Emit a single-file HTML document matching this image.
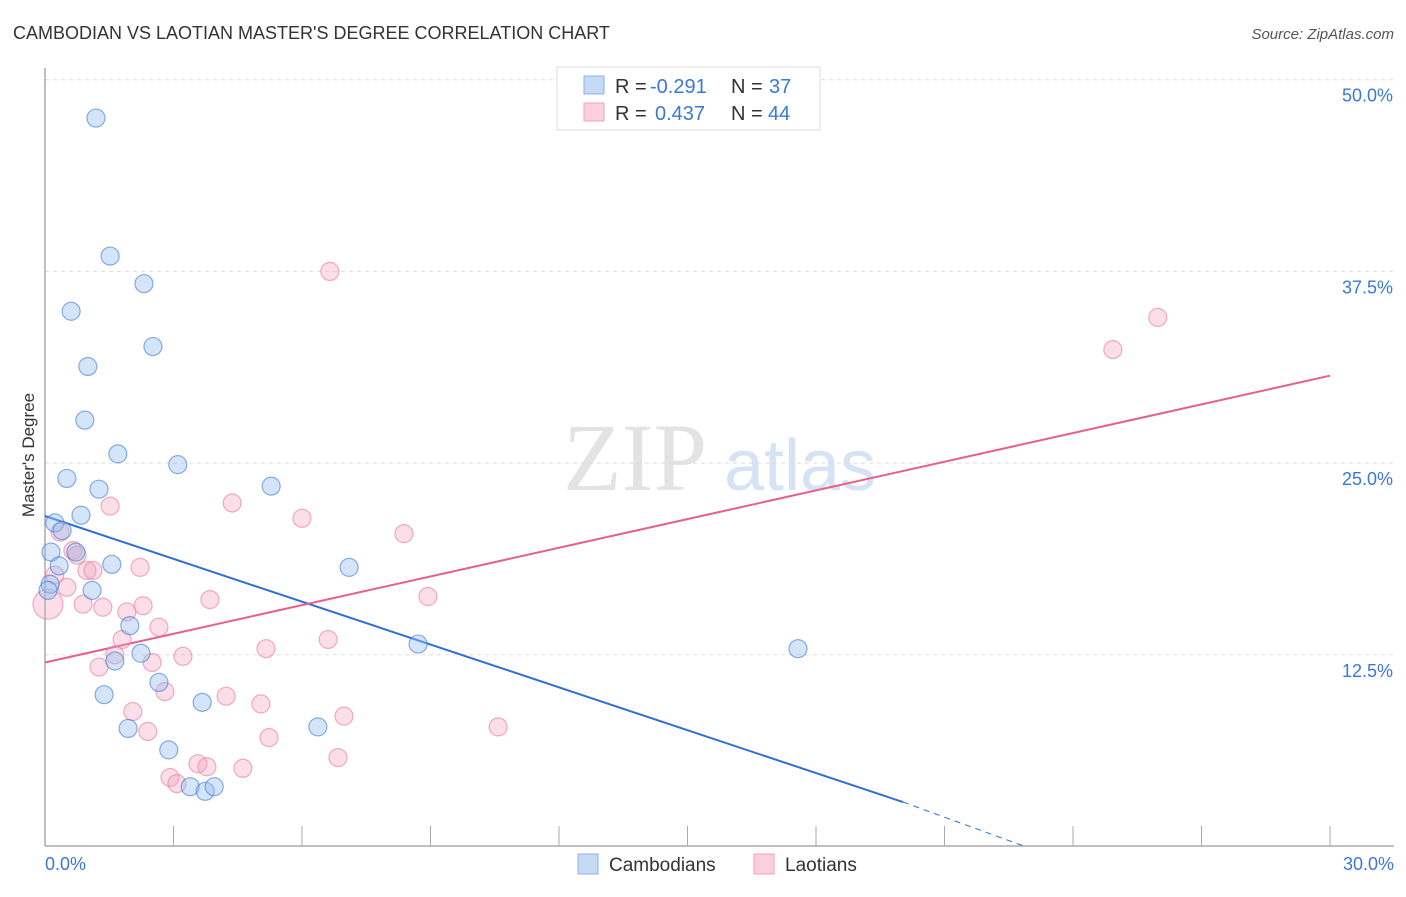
<!DOCTYPE html>
<html><head><meta charset="utf-8"><style>
body{margin:0;background:#fff;font-family:"Liberation Sans",sans-serif;}
</style></head><body>
<svg id="chart" width="1406" height="892" xmlns="http://www.w3.org/2000/svg">
<text x="13" y="39" font-size="18" fill="#333">CAMBODIAN VS LAOTIAN MASTER'S DEGREE CORRELATION CHART</text>
<text x="1394" y="39" font-size="15" fill="#555" font-style="italic" text-anchor="end">Source: ZipAtlas.com</text>
<g>
<text x="635" y="490" font-size="96" font-family="Liberation Serif,serif" fill="#e3e3e3" text-anchor="middle">ZIP</text>
<text x="800" y="490" font-size="72" fill="#d6e3f4" text-anchor="middle">atlas</text>
</g>
<g id="grid"></g><g id="axes"></g>
<g id="lines"></g><g id="pts"></g>
<text transform="translate(34,455) rotate(-90)" font-size="17" fill="#333" text-anchor="middle">Master's Degree</text>
<g>
<rect x="557" y="67" width="263" height="63" fill="#fff" stroke="#ddd"/>
<rect x="584" y="76" width="20" height="18" fill="#c5daf5" stroke="#8ab0e0"/>
<rect x="584" y="103" width="20" height="18" fill="#fad0dd" stroke="#eea3bb"/>
<text x="615" y="93" font-size="20" fill="#333">R =</text>
<text x="650" y="93" font-size="20" fill="#3a78d8">-0.291</text>
<text x="731" y="93" font-size="20" fill="#333">N =</text>
<text x="769" y="93" font-size="20" fill="#3a78d8">37</text>
<text x="615" y="120" font-size="20" fill="#333">R =</text>
<text x="655" y="120" font-size="20" fill="#3a78d8">0.437</text>
<text x="731" y="120" font-size="20" fill="#333">N =</text>
<text x="768" y="120" font-size="20" fill="#3a78d8">44</text>
</g>
<g>
<rect x="578" y="854" width="20" height="20" fill="#c5daf5" stroke="#8ab0e0"/>
<text x="609" y="871" font-size="19" fill="#333">Cambodians</text>
<rect x="754" y="854" width="20" height="20" fill="#fad0dd" stroke="#eea3bb"/>
<text x="785" y="871" font-size="19" fill="#333">Laotians</text>
</g>
</svg>
<script>
const yTicks=[12.5,25,37.5,50];
const yTickLabels=["12.5%","25.0%","37.5%","50.0%"];
const xTicks=[0,3,6,9,12,15,18,21,24,27,30];
const camX=[1.19,1.52,2.31,0.61,2.52,1.00,0.93,1.70,3.10,0.51,1.26,5.28,0.84,0.23,0.40,0.72,0.14,0.33,1.56,7.10,1.10,0.12,0.07,1.98,2.24,1.63,2.66,1.38,3.67,1.94,6.37,8.71,17.58,2.89,3.39,3.74,3.95];
const camY=[47.5,38.5,36.7,34.9,32.6,31.3,27.8,25.6,24.9,24.0,23.3,23.5,21.6,21.1,20.6,19.2,19.2,18.3,18.4,18.2,16.7,17.1,16.7,14.4,12.6,12.1,10.7,9.9,9.4,7.7,7.8,13.2,12.9,6.3,3.9,3.6,3.9];
const laoX=[6.65,25.98,24.93,4.37,6.00,8.38,1.52,0.35,0.65,2.22,0.98,1.12,0.23,0.51,3.85,8.94,0.89,1.35,2.29,1.91,0.07,2.66,1.80,6.61,5.16,1.63,3.22,2.50,1.26,2.80,4.23,5.04,2.05,6.98,2.40,10.58,5.23,6.84,3.57,3.78,4.62,2.92,3.08,0.75];
const laoY=[37.5,34.5,32.4,22.4,21.4,20.4,22.2,20.5,19.3,18.2,18.0,18.0,17.7,16.9,16.1,16.3,15.8,15.6,15.7,15.3,15.8,14.3,13.5,13.5,12.9,12.5,12.4,12.0,11.7,10.1,9.8,9.3,8.8,8.5,7.5,7.8,7.1,5.8,5.4,5.2,5.1,4.5,4.1,19.0];
const laoR=[9,9,9,9,9,9,9,9,9,9,9,9,9,9,9,9,9,9,9,9,15,9,9,9,9,9,9,9,9,9,9,9,9,9,9,9,9,9,9,9,9,9,9,9];
const camTrend=[[0,21.55],[20.03,2.9]];
const camTrendDash=[[20.03,2.9],[22.88,0]];
const laoTrend=[[0,12.0],[30,30.7]];
const NS="http://www.w3.org/2000/svg";
const sx=v=>45+v/30*1285;
const sy=v=>846.5-v/12.5*191.7;
function mk(t,a,p){const e=document.createElementNS(NS,t);for(const k in a)e.setAttribute(k,a[k]);p.appendChild(e);return e;}
const grid=document.getElementById('grid'),axes=document.getElementById('axes');
yTicks.forEach((t,i)=>{
 const g=mk('line',{x1:45,x2:1394,y1:sy(t),y2:sy(t),stroke:'#ddd','stroke-dasharray':'4,4'},grid);
 
 
 const l=mk('text',{x:1393,y:sy(t)+22,'font-size':18,fill:'#3a78d8','text-anchor':'end'},axes);
 l.textContent=yTickLabels[i];
 
 
});
const ya=mk('line',{x1:45,x2:45,y1:68,y2:846,stroke:'#aaa','stroke-width':1.5},axes);


const xa=mk('line',{x1:45,x2:1394,y1:846,y2:846,stroke:'#aaa','stroke-width':1.5},axes);


xTicks.forEach(t=>{const k=mk('line',{x1:sx(t),x2:sx(t),y1:826,y2:846,stroke:'#aaa'},axes);
 
 });
const x0=mk('text',{x:45,y:870,'font-size':18,fill:'#3a78d8'},axes);x0.textContent='0.0%';


const x1=mk('text',{x:1394,y:870,'font-size':18,fill:'#3a78d8','text-anchor':'end'},axes);x1.textContent='30.0%';


const pts=document.getElementById('pts');
laoX.forEach((x,i)=>{const c=mk('circle',{cx:sx(x),cy:sy(laoY[i]),r:laoR[i],fill:'rgba(244,160,188,0.35)',stroke:'rgba(232,120,158,0.6)','stroke-width':1.2},pts);
 
 });
camX.forEach((x,i)=>{const c=mk('circle',{cx:sx(x),cy:sy(camY[i]),r:9,fill:'rgba(150,190,240,0.4)',stroke:'rgba(60,120,210,0.6)','stroke-width':1.2},pts);
 
 });
const lines=document.getElementById('lines');
const lb=mk('line',{x1:sx(camTrend[0][0]),y1:sy(camTrend[0][1]),x2:sx(camTrend[1][0]),y2:sy(camTrend[1][1]),stroke:'#2f6fd6','stroke-width':2},lines);


const ld=mk('line',{x1:sx(camTrendDash[0][0]),y1:sy(camTrendDash[0][1]),x2:sx(camTrendDash[1][0]),y2:sy(camTrendDash[1][1]),stroke:'#2f6fd6','stroke-width':1,'stroke-dasharray':'6,5'},lines);


const lp=mk('line',{x1:sx(laoTrend[0][0]),y1:sy(laoTrend[0][1]),x2:sx(laoTrend[1][0]),y2:sy(laoTrend[1][1]),stroke:'#e5608e','stroke-width':2},lines);


</script>
</body></html>
